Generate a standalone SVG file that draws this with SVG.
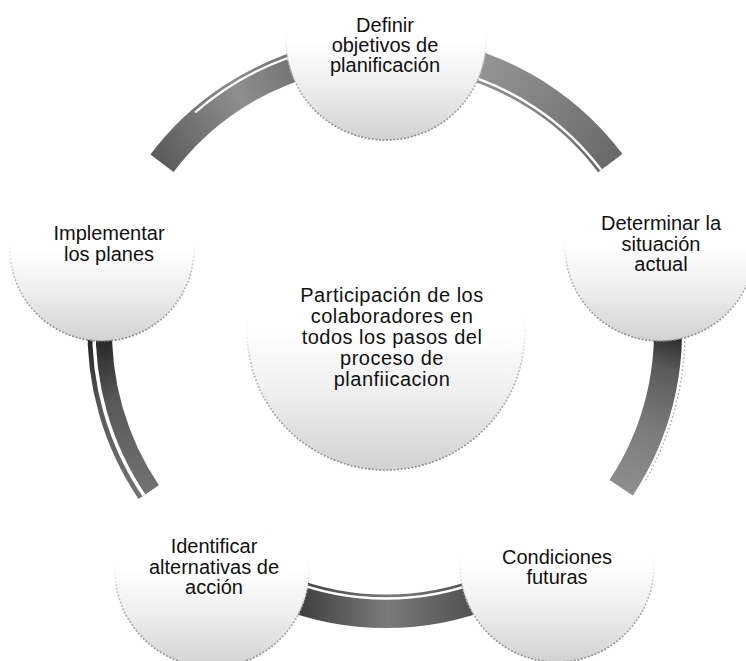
<svg xmlns="http://www.w3.org/2000/svg" width="746" height="661" viewBox="0 0 746 661">
<style>
  .lbl { font-family: "Liberation Sans", Arial, Helvetica, sans-serif; font-size: 20px; fill: #111; text-anchor: middle; }
  .big { letter-spacing: 0.5px; }
  .node { fill: url(#nodeFill); stroke: url(#nodeEdge); stroke-width: 1.6; stroke-dasharray: 2 1.6; }
  .gap { fill: none; stroke: #fff; }
</style>
<defs>
  <linearGradient id="nodeFill" x1="0" y1="0" x2="0" y2="1">
    <stop offset="0" stop-color="#ffffff"/>
    <stop offset="0.5" stop-color="#ffffff"/>
    <stop offset="0.72" stop-color="#efefef"/>
    <stop offset="1" stop-color="#d2d2d2"/>
  </linearGradient>
  <linearGradient id="nodeEdge" x1="0" y1="0" x2="0" y2="1">
    <stop offset="0" stop-color="#ffffff" stop-opacity="0"/>
    <stop offset="0.42" stop-color="#ffffff" stop-opacity="0"/>
    <stop offset="0.62" stop-color="#bdbdbd"/>
    <stop offset="1" stop-color="#8a8a8a"/>
  </linearGradient>
  <linearGradient id="gTL" gradientUnits="userSpaceOnUse" x1="155" y1="160" x2="318" y2="60">
    <stop offset="0" stop-color="#5a5a5a"/>
    <stop offset="0.55" stop-color="#8e8e8e"/>
    <stop offset="1" stop-color="#696969"/>
  </linearGradient>
  <linearGradient id="gTR" gradientUnits="userSpaceOnUse" x1="455" y1="55" x2="615" y2="165">
    <stop offset="0" stop-color="#9a9a9a"/>
    <stop offset="0.6" stop-color="#7e7e7e"/>
    <stop offset="1" stop-color="#686868"/>
  </linearGradient>
  <linearGradient id="gR" gradientUnits="userSpaceOnUse" x1="666" y1="335" x2="620" y2="490">
    <stop offset="0" stop-color="#2e2e2e"/>
    <stop offset="0.2" stop-color="#5a5a5a"/>
    <stop offset="0.6" stop-color="#7c7c7c"/>
    <stop offset="1" stop-color="#8e8e8e"/>
  </linearGradient>
  <linearGradient id="gB" gradientUnits="userSpaceOnUse" x1="300" y1="600" x2="475" y2="600">
    <stop offset="0" stop-color="#3f3f3f"/>
    <stop offset="0.5" stop-color="#7a7a7a"/>
    <stop offset="1" stop-color="#505050"/>
  </linearGradient>
  <linearGradient id="gL" gradientUnits="userSpaceOnUse" x1="100" y1="338" x2="152" y2="495">
    <stop offset="0" stop-color="#262626"/>
    <stop offset="0.4" stop-color="#5a5a5a"/>
    <stop offset="1" stop-color="#737373"/>
  </linearGradient>
</defs>

<g id="connectors">
  <!-- top-left band -->
  <path d="M150.4,154.5 A295,295 0 0 1 314.6,45.8 L321.6,73.9 A266,266 0 0 0 173.6,171.9 Z" fill="url(#gTL)"/>
  <path class="gap" d="M195.1,112.4 A291,291 0 0 1 315.6,49.6" stroke-width="2.2"/>
  <!-- top-right band -->
  <path d="M457.6,44.8 A296,296 0 0 1 622.4,153.9 L598.0,172.2 A265.5,265.5 0 0 0 450.2,74.4 Z" fill="url(#gTR)"/>
  <path class="gap" d="M451.1,70.7 A269.3,269.3 0 0 1 601.1,169.9" stroke-width="2.4"/>
  <!-- right band -->
  <path d="M680.4,301.1 A296,296 0 0 1 632.8,495.4 L609.5,479.9 A268,268 0 0 0 652.5,304.0 Z" fill="url(#gR)"/>
  <path d="M684.8,321.6 A299,299 0 0 1 644.9,481.5" fill="none" stroke="#9a9a9a" stroke-width="1.2" stroke-dasharray="1.5 2.5"/>
  <!-- bottom band -->
  <path d="M496.9,606.5 A296,296 0 0 1 275.1,606.5 L287.7,575.4 A262.5,262.5 0 0 0 484.3,575.4 Z" fill="url(#gB)"/>
  <path class="gap" d="M485.8,579.1 A266.5,266.5 0 0 1 286.2,579.1" stroke-width="2.5"/>
  <!-- left band -->
  <path d="M138.5,498.9 A298.5,298.5 0 0 1 87.7,321.6 L112.2,322.4 A274,274 0 0 0 158.9,485.2 Z" fill="url(#gL)"/>
  <path class="gap" d="M143.9,495.3 A292,292 0 0 1 94.2,321.8" stroke-width="3.5"/>
</g>

<g id="node-center">
  <circle class="node" cx="386" cy="331" r="139"/>
  <text class="lbl big" x="392" y="302">Participación de los</text>
  <text class="lbl big" x="392" y="323">colaboradores en</text>
  <text class="lbl big" x="392" y="344">todos los pasos del</text>
  <text class="lbl big" x="392" y="365">proceso de</text>
  <text class="lbl big" x="392" y="386">planfiicacion</text>
</g>

<g id="node-definir">
  <circle class="node" cx="386" cy="40" r="100"/>
  <text class="lbl" x="385" y="32">Definir</text>
  <text class="lbl" x="385" y="52">objetivos de</text>
  <text class="lbl" x="385" y="72">planificación</text>
</g>

<g id="node-determinar">
  <circle class="node" cx="660" cy="246" r="95"/>
  <text class="lbl" x="661" y="230">Determinar la</text>
  <text class="lbl" x="661" y="251">situación</text>
  <text class="lbl" x="661" y="271">actual</text>
</g>

<g id="node-condiciones">
  <circle class="node" cx="557" cy="565" r="97"/>
  <text class="lbl" x="557" y="564">Condiciones</text>
  <text class="lbl" x="557" y="584">futuras</text>
</g>

<g id="node-identificar">
  <circle class="node" cx="212" cy="570" r="97"/>
  <text class="lbl" x="214" y="553">Identificar</text>
  <text class="lbl" x="214" y="574">alternativas de</text>
  <text class="lbl" x="214" y="594">acción</text>
</g>

<g id="node-implementar">
  <circle class="node" cx="102" cy="249" r="92"/>
  <text class="lbl" x="109" y="240">Implementar</text>
  <text class="lbl" x="109" y="261">los planes</text>
</g>
</svg>
